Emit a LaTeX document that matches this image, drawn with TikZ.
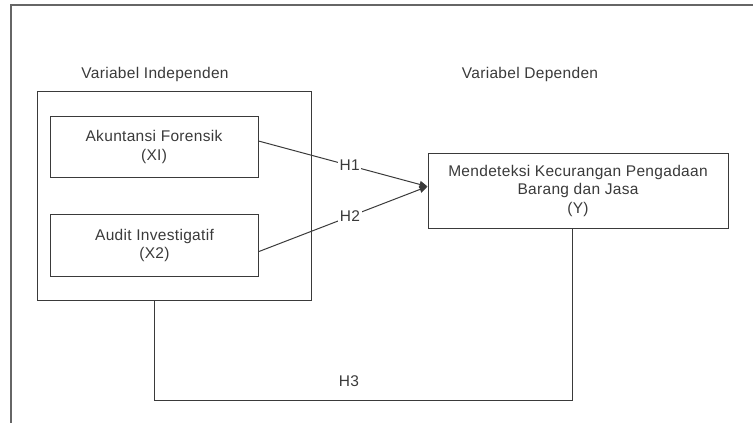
\documentclass[tikz,border=0pt]{standalone}
\usepackage{fontspec}
\setmainfont[LetterSpace=2]{Liberation Sans}
\usetikzlibrary{arrows.meta}
\definecolor{inkgray}{HTML}{3A3A3A}
\begin{document}
\begin{tikzpicture}[x=1pt, y=-1pt,
        every node/.style={text=inkgray, font=\fontsize{15.5}{18.5}\selectfont},
        varbox/.style={draw=inkgray, line width=1pt, align=center, inner sep=0pt},
        hlabel/.style={fill=white, inner sep=1.5pt}]
    \useasboundingbox (0,0) rectangle (753,423);
    % frame
    \draw[gray!80!black, line width=1.6pt] (753,5) -- (11,5) -- (11,423);
    % independent block
    \node at (155,74) {Variabel Independen};
    \node[varbox, minimum width=274pt, minimum height=209pt] (indep) at (174,195.5) {};
    \node[varbox, minimum width=208pt, minimum height=61pt] (akun) at (154,147) {Akuntansi Forensik\\(XI)};
    \node[varbox, minimum width=208pt, minimum height=62pt] (audit) at (154.5,245.5) {Audit Investigatif\\(X2)};
    % dependent block
    \node at (530,74) {Variabel Dependen};
    \node[varbox, minimum width=300pt, minimum height=75pt] (dep) at (578,190.5) {Mendeteksi Kecurangan Pengadaan\\Barang dan Jasa\\(Y)};
    % hypotheses
    \draw[-{Triangle[length=8pt, width=7pt]}, inkgray, line width=1pt] ([yshift=6pt]akun.east) -- node[hlabel, pos=.54] (h1) {H1} ([yshift=4pt]dep.west);
    \draw[-{Triangle[length=8pt, width=7pt]}, inkgray, line width=1pt] ([yshift=-6pt]audit.east) -- node[hlabel, pos=.54] (h2) {H2} ([yshift=4pt]dep.west);
    \coordinate (h3corner) at (154,400);
    \draw[inkgray, line width=1pt] ([xshift=-20pt]indep.south) -- (h3corner) -| ([xshift=-6pt]dep.south);
    \node (h3) at (349,381) {H3};
\end{tikzpicture}
\end{document}
